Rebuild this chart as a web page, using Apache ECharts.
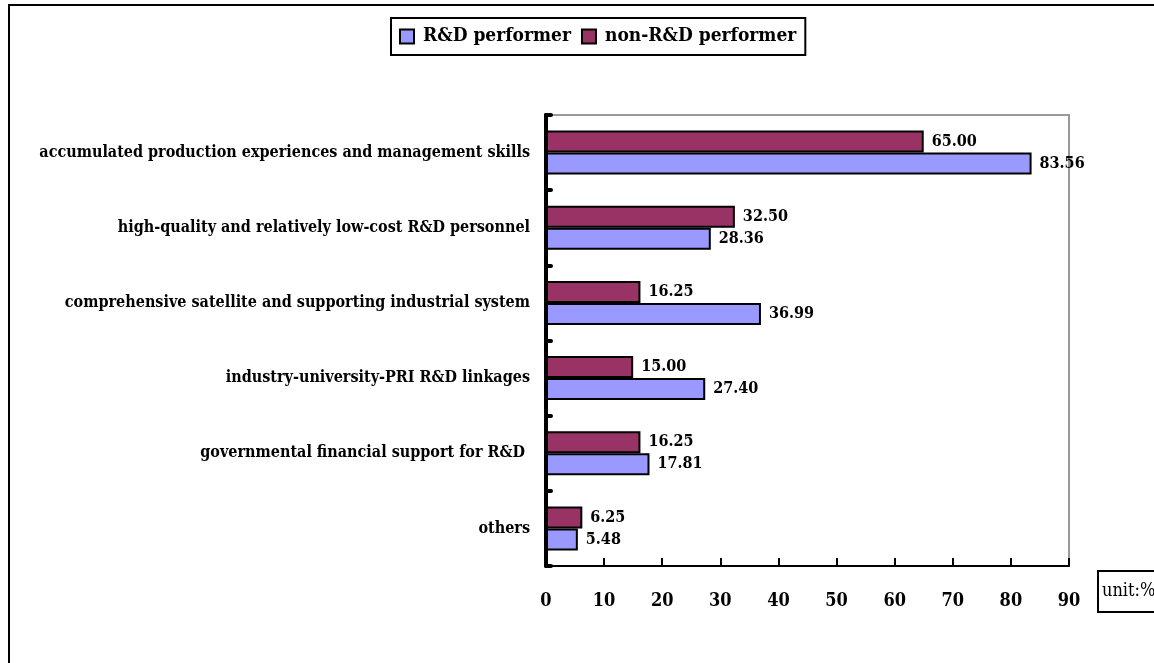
<!DOCTYPE html>
<html>
<head>
<meta charset="utf-8">
<script src="https://cdn.jsdelivr.net/npm/echarts@6/dist/echarts.min.js"></script>
<style>
html,body{margin:0;padding:0;background:#fff;}
#main{width:1154px;height:663px;}
</style>
</head>
<body>
<div id="main"></div>
<script>
// categories listed bottom to top
var categories = [
  "others",
  "governmental financial support for R&D ",
  "industry-university-PRI R&D linkages",
  "comprehensive satellite and supporting industrial system",
  "high-quality and relatively low-cost R&D personnel",
  "accumulated production experiences and management skills"
];
var rdPerformer = [5.48, 17.81, 27.40, 36.99, 28.36, 83.56];
var nonRdPerformer = [6.25, 16.25, 15.00, 16.25, 32.50, 65.00];
var xTicks = [0, 10, 20, 30, 40, 50, 60, 70, 80, 90];

var FONT = "'DejaVu Serif Condensed', 'DejaVu Serif', serif";
var chart = echarts.init(document.getElementById('main'), null, {renderer: 'canvas'});

var labelStyle = {
  show: true, position: 'right', distance: 8,
  fontFamily: FONT, fontWeight: 'bold', fontSize: 16, color: '#000',
  formatter: function (p) { return p.value.toFixed(2); }
};

chart.setOption({
  animation: false,
  backgroundColor: '#fff',
  textStyle: {fontFamily: FONT},
  graphic: [{
    type: 'rect', shape: {x: 9, y: 5, width: 1200, height: 700},
    style: {fill: null, stroke: '#000', lineWidth: 2}, z: 100, silent: true
  }],
  title: {
    text: 'unit:%', left: 1098, top: 571,
    borderColor: '#000', borderWidth: 2, padding: [11, 30, 12, 4],
    textStyle: {fontFamily: FONT, fontWeight: 'normal', fontSize: 18, color: '#000'}
  },
  legend: {
    left: 391, top: 18,
    borderColor: '#000', borderWidth: 2,
    padding: [9, 9, 9, 8],
    itemWidth: 14, itemHeight: 14, itemGap: 10,
    icon: 'rect',
    itemStyle: {borderColor: '#000', borderWidth: 2},
    textStyle: {fontFamily: FONT, fontWeight: 'bold', fontSize: 19, color: '#000', padding: [0, 0, 0, 4]},
    data: ['R&D performer', 'non-R&D performer']
  },
  grid: {
    left: 546, top: 115, width: 523, height: 451,
    show: true, borderColor: '#999', borderWidth: 2, backgroundColor: 'transparent',
    containLabel: false
  },
  xAxis: {
    type: 'value', min: 0, max: 90, interval: 10,
    axisLine: {show: true, lineStyle: {color: '#000', width: 2}},
    axisTick: {show: true, inside: true, length: 8, lineStyle: {color: '#000', width: 2}},
    splitLine: {show: false},
    axisLabel: {
      fontFamily: FONT, fontWeight: 'bold', fontSize: 18, color: '#000', margin: 26,
      formatter: function (v) { return xTicks.indexOf(v) >= 0 ? String(v) : ''; }
    }
  },
  yAxis: {
    type: 'category', data: categories,
    axisLine: {show: true, lineStyle: {color: '#000', width: 4}},
    axisTick: {show: true, inside: true, length: 5, lineStyle: {color: '#000', width: 4, cap: 'round'}},
    axisLabel: {fontFamily: FONT, fontWeight: 'bold', fontSize: 16, color: '#000', margin: 16}
  },
  series: [
    {
      name: 'non-R&D performer', type: 'bar', data: nonRdPerformer,
      barWidth: 22, barGap: '0%',
      itemStyle: {color: '#993366', borderColor: '#000', borderWidth: 2},
      label: labelStyle
    },
    {
      name: 'R&D performer', type: 'bar', data: rdPerformer,
      barWidth: 22, barGap: '0%',
      itemStyle: {color: '#9999FF', borderColor: '#000', borderWidth: 2},
      label: labelStyle
    }
  ]
});
</script>
</body>
</html>
